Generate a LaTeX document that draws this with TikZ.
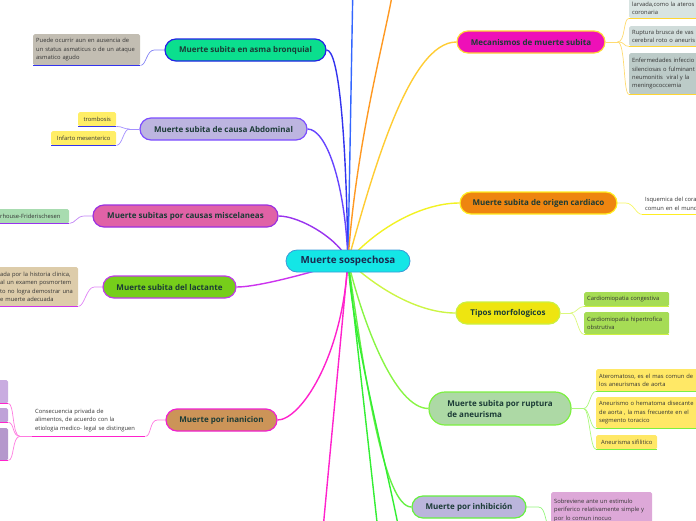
\documentclass[tikz,border=0pt]{standalone}
\usepackage{fontspec}
\setmainfont{Open Sans}
\usetikzlibrary{backgrounds}
\definecolor{mmNavy}{HTML}{1A2A50}
\definecolor{mmText}{HTML}{1B3B36}
\definecolor{leafText}{HTML}{333333}
\definecolor{mmCyan}{HTML}{14E6E6}
\definecolor{mmCyanLine}{HTML}{3A9AD9}
% topic fills and borders
\definecolor{asmaF}{HTML}{0BDF8E}\definecolor{asmaB}{HTML}{2222E6}
\definecolor{abdF}{HTML}{BDB5E0}\definecolor{abdB}{HTML}{7C4DFF}
\definecolor{miscF}{HTML}{E062A6}\definecolor{miscB}{HTML}{9B30E0}
\definecolor{lactF}{HTML}{76CE1A}\definecolor{lactB}{HTML}{C03AE8}
\definecolor{inanF}{HTML}{CC9458}\definecolor{inanB}{HTML}{F020D0}
\definecolor{mecF}{HTML}{EE10B8}\definecolor{mecB}{HTML}{FFD633}
\definecolor{cardF}{HTML}{EE8510}\definecolor{cardB}{HTML}{FFEE22}
\definecolor{tipF}{HTML}{EEE510}\definecolor{tipB}{HTML}{CCF040}
\definecolor{aneF}{HTML}{ADD9A5}\definecolor{aneB}{HTML}{7CF040}
\definecolor{inhF}{HTML}{BBB5DC}\definecolor{inhB}{HTML}{66F040}
% branch lines
\definecolor{asmaC}{HTML}{3333EE}\definecolor{abdC}{HTML}{6644FF}
\definecolor{miscC}{HTML}{9933EE}\definecolor{lactC}{HTML}{CC33EE}
\definecolor{inanC}{HTML}{FF22CC}\definecolor{mecC}{HTML}{FFCC33}
\definecolor{cardC}{HTML}{F2F222}\definecolor{tipC}{HTML}{CCF544}
\definecolor{aneC}{HTML}{88F544}\definecolor{inhC}{HTML}{66F044}
\definecolor{topBlue}{HTML}{3366FF}\definecolor{topOrange}{HTML}{FF9922}
\definecolor{botGreen}{HTML}{33EE33}
% leaf fills
\definecolor{asmaL}{HTML}{C2BDB2}\definecolor{yelL}{HTML}{FFEE66}
\definecolor{miscL}{HTML}{A8DCB0}\definecolor{lactL}{HTML}{DDCCAA}
\definecolor{inL1}{HTML}{C9ACE0}\definecolor{inL2}{HTML}{BFA2D8}\definecolor{inL3}{HTML}{B598CC}
\definecolor{mecL1}{HTML}{D8E4E2}\definecolor{mecL2}{HTML}{D0DCDA}\definecolor{mecL3}{HTML}{BCCBC8}
\definecolor{tipL}{HTML}{A6DC55}\definecolor{aneL}{HTML}{FFE866}\definecolor{inhL}{HTML}{DDA8D8}

\begin{document}
\begin{tikzpicture}[x=1pt,y=-1pt,
  topic/.style={draw,line width=1.2pt,rounded corners=11pt,minimum height=22pt,inner sep=0pt,
    font=\fontsize{8}{11}\selectfont\bfseries,text=mmText},
  leaf/.style={anchor=north west,align=left,inner xsep=3pt,inner ysep=2pt,rounded corners=1.5pt,
    font=\fontsize{5.8}{8.3}\selectfont,text=leafText},
  branch/.style={line width=1.4pt},
  twig/.style={line width=0.7pt},
  uline/.style={line width=1.6pt}]
  \path[use as bounding box] (0,0) rectangle (696,520);
  \clip (0,0) rectangle (696,520);

  % central topic
  \node[topic,fill=mmCyan,draw=mmCyanLine,line width=0.8pt,minimum width=124pt,
    font=\fontsize{9.8}{11}\selectfont\bfseries,text=mmNavy] (mm) at (348,261) {Muerte sospechosa};

  % left branches
  \node[topic,fill=asmaF,draw=asmaB,minimum width=161pt] (asma) at (245.5,50) {Muerte subita en asma bronquial};
  \node[topic,fill=abdF,draw=abdB,minimum width=167pt] (abd) at (223.5,129) {Muerte subita de causa Abdominal};
  \node[topic,fill=miscF,draw=miscB,minimum width=185pt] (misc) at (185.5,216) {Muerte subitas por causas miscelaneas};
  \node[topic,fill=lactF,draw=lactB,minimum width=133pt] (lact) at (169.5,287) {Muerte subita del lactante};
  \node[topic,fill=inanF,draw=inanB,minimum width=111pt] (inan) at (221.5,420) {Muerte por inanicion};

  % right branches
  \node[topic,fill=mecF,draw=mecB,minimum width=148pt] (mec) at (531,42) {Mecanismos de muerte subita};
  \node[topic,fill=cardF,draw=cardB,minimum width=157pt] (card) at (538.5,203) {Muerte subita de origen cardiaco};
  \node[topic,fill=tipF,draw=tipB,minimum width=104pt] (tip) at (508,313) {Tipos morfologicos};
  \node[topic,fill=aneF,draw=aneB,minimum width=142pt,minimum height=33pt,rounded corners=16pt,
    align=left] (ane) at (500,408.5) {Muerte subita por ruptura\\de aneurisma};
  \node[topic,fill=inhF,draw=inhB,minimum width=114pt] (inh) at (469,507) {Muerte por inhibición};

  % leaves, left
  \node[leaf,fill=asmaL,text width=101pt,minimum height=31pt] (asmaN) at (33,34)
    {Puede ocurrir aun en ausencia de\\un status asmaticus o de un ataque\\asmatico agudo};
  \node[leaf,fill=yelL,minimum width=38pt,minimum height=14pt,align=center] (trombN) at (78,112) {trombosis};
  \node[leaf,fill=yelL,minimum width=65pt,minimum height=14pt,align=center] (infN) at (51,131) {Infarto mesenterico};
  \node[leaf,fill=miscL,text width=66pt,minimum height=14pt] (miscN) at (-3,209) {rhouse-Friderischesen};
  \node[leaf,fill=lactL,text width=75pt,minimum height=39pt] (lactN) at (-3,267)
    {ada por la historia clinica,\\al un examen posmortem\\to no logra demostrar una\\e muerte adecuada};
  \node[leaf,text width=107pt,minimum height=32pt] (inanN) at (32,404)
    {Consecuencia privada de\\alimentos, de acuerdo con la\\etiologia medico- legal se distinguen};
  \node[leaf,fill=inL1,minimum width=38pt,minimum height=23pt] (inS1) at (-30,380) {};
  \node[leaf,fill=inL2,minimum width=38pt,minimum height=14pt] (inS2) at (-30,408) {};
  \node[leaf,fill=inL3,minimum width=38pt,minimum height=32pt] (inS3) at (-30,428) {};

  % leaves, right
  \node[leaf,fill=mecL1,text width=80pt,minimum height=20pt] (mecN1) at (629,-2)
    {larvada,como la ateros\\coronaria};
  \node[leaf,fill=mecL2,text width=80pt,minimum height=20pt] (mecN2) at (629,26)
    {Ruptura brusca de vas\\cerebral roto o aneuris};
  \node[leaf,fill=mecL3,text width=80pt,minimum height=41pt] (mecN3) at (629,53)
    {Enfermedades infeccio\\silenciosas o fulminant\\neumonitis\ \ viral y la\\meningococcemia};
  \node[leaf,text width=60pt,minimum height=21pt] (cardN) at (642,193) {Isquemica del cora\\comun en el mund};
  \node[leaf,fill=tipL,text width=79pt,minimum height=14pt] (tipN1) at (584,292) {Cardiomiopatia congestiva};
  \node[leaf,fill=tipL,text width=79pt,minimum height=22pt] (tipN2) at (584,312)
    {Cardiomiopatia hipertrofica\\obstrutiva};
  \node[leaf,fill=aneL,text width=100pt,minimum height=22pt] (aneN1) at (596,369)
    {Ateromatoso, es el mas comun de\\los aneurismas de aorta};
  \node[leaf,fill=aneL,text width=100pt,minimum height=31pt] (aneN2) at (596,397)
    {Aneurismo o hematoma disecante\\de aorta , la mas frecuente en el\\segmento toracico};
  \node[leaf,fill=aneL,minimum width=61pt,minimum height=14pt,align=center] (aneN3) at (596,435) {Aneurisma sifilitico};
  \node[leaf,fill=inhL,text width=95pt,minimum height=36pt] (inhN) at (551,492)
    {Sobreviene ante un estimulo\\periferico relativamente simple y\\por lo comun inocuo};

  % underlines
  \foreach \n/\c in {asmaN/asmaC,trombN/asmaC,infN/asmaC,miscN/miscC,lactN/lactC,
      inanN/inanC,inS1/inanC,inS2/inanC,inS3/inanC,mecN1/mecB,mecN2/mecB,mecN3/mecB,
      cardN/cardB,tipN1/tipB,tipN2/tipB,aneN1/aneB,aneN2/aneB,aneN3/aneB,inhN/inhB}
    \draw[uline,\c] (\n.south west) -- (\n.south east);

  \begin{scope}[on background layer]
    % branches from the centre
    \draw[branch,asmaC] (mm.center) .. controls +(-2,-131) and +(12,0) .. (asma.east);
    \draw[branch,abdC] (mm.center) .. controls +(-3,-81) and +(18,0) .. (abd.east);
    \draw[branch,miscC] (mm.center) .. controls +(-8,-21) and +(22,0) .. (misc.east);
    \draw[branch,lactC] (mm.center) .. controls +(-28,9) and +(24,0) .. (lact.east);
    \draw[branch,inanC] (mm.center) .. controls +(-6,99) and +(22,0) .. (inan.east);
    \draw[branch,mecC] (mm.center) .. controls +(25,-90) and +(-47,0) .. (mec.west);
    \draw[branch,cardC] (mm.center) .. controls +(32,-36) and +(-35,0) .. (card.west);
    \draw[branch,tipC] (mm.center) .. controls +(32,30) and +(-35,0) .. (tip.west);
    \draw[branch,aneC] (mm.center) .. controls +(14,59) and +(-34,0) .. (ane.west);
    \draw[branch,inhC] (mm.center) .. controls +(17,119) and +(-27,0) .. (inh.west);
    % branches running off the page
    \coordinate (offA) at (353,-20);
    \coordinate (offB) at (393,-10);
    \coordinate (offC) at (322,540);
    \coordinate (offD) at (379,540);
    \coordinate (offE) at (401,540);
    \draw[branch,topBlue] (mm.center) -- (offA);
    \draw[branch,topOrange] (mm.center) .. controls +(8,-120) and +(-6,40) .. (offB);
    \draw[branch,inanC] (mm.center) -- (offC);
    \draw[branch,botGreen] (mm.center) -- (offD);
    \draw[branch,botGreen] (mm.center) .. controls +(5,80) and +(-15,-80) .. (offE);

    % twigs, left
    \draw[twig,asmaC!60] (asma.west) -- ++(-10,0) .. controls +(-8,0) and +(6,0) .. (asmaN.south east);
    \path (abd.west) ++(-10,0) coordinate (abdJ);
    \draw[twig,abdC!60] (abd.west) -- (abdJ);
    \foreach \n in {trombN,infN}
      \draw[twig,abdC!60] (abdJ) .. controls +(-6,0) and +(6,0) .. (\n.south east);
    \draw[twig,miscC!60] (misc.west) -- ++(-8,0) .. controls +(-8,0) and +(6,0) .. (miscN.south east);
    \draw[twig,lactC!60] (lact.west) -- ++(-8,0) .. controls +(-8,0) and +(6,0) .. (lactN.south east);
    \draw[twig,inanC!60] (inan.west) -- ++(-8,0) .. controls +(-8,0) and +(6,0) .. (inanN.south east);
    \path (inanN.south west) ++(-12,0) coordinate (inJ);
    \draw[twig,inanC!60] (inanN.south west) -- (inJ);
    \foreach \n in {inS1,inS2,inS3}
      \draw[twig,inanC!60] (inJ) .. controls +(-8,0) and +(6,0) .. (\n.south east);

    % twigs, right
    \path (mec.east) ++(12,0) coordinate (mecJ);
    \draw[twig,mecC!70] (mec.east) -- (mecJ);
    \foreach \n in {mecN1,mecN2,mecN3}
      \draw[twig,mecC!70] (mecJ) .. controls +(8,0) and +(-6,0) .. (\n.south west);
    \draw[twig,cardC!70] (card.east) -- ++(8,0) .. controls +(8,0) and +(-6,0) .. (cardN.south west);
    \path (tip.east) ++(10,0) coordinate (tipJ);
    \draw[twig,tipC!70] (tip.east) -- (tipJ);
    \foreach \n in {tipN1,tipN2}
      \draw[twig,tipC!70] (tipJ) .. controls +(6,0) and +(-6,0) .. (\n.south west);
    \path (ane.east) ++(12,0) coordinate (aneJ);
    \draw[twig,aneC!70] (ane.east) -- (aneJ);
    \foreach \n in {aneN1,aneN2,aneN3}
      \draw[twig,aneC!70] (aneJ) .. controls +(6,0) and +(-6,0) .. (\n.south west);
    \draw[twig,inhC!70] (inh.east) -- ++(12,0) .. controls +(8,0) and +(-6,0) .. (inhN.south west);
  \end{scope}
\end{tikzpicture}
\end{document}
